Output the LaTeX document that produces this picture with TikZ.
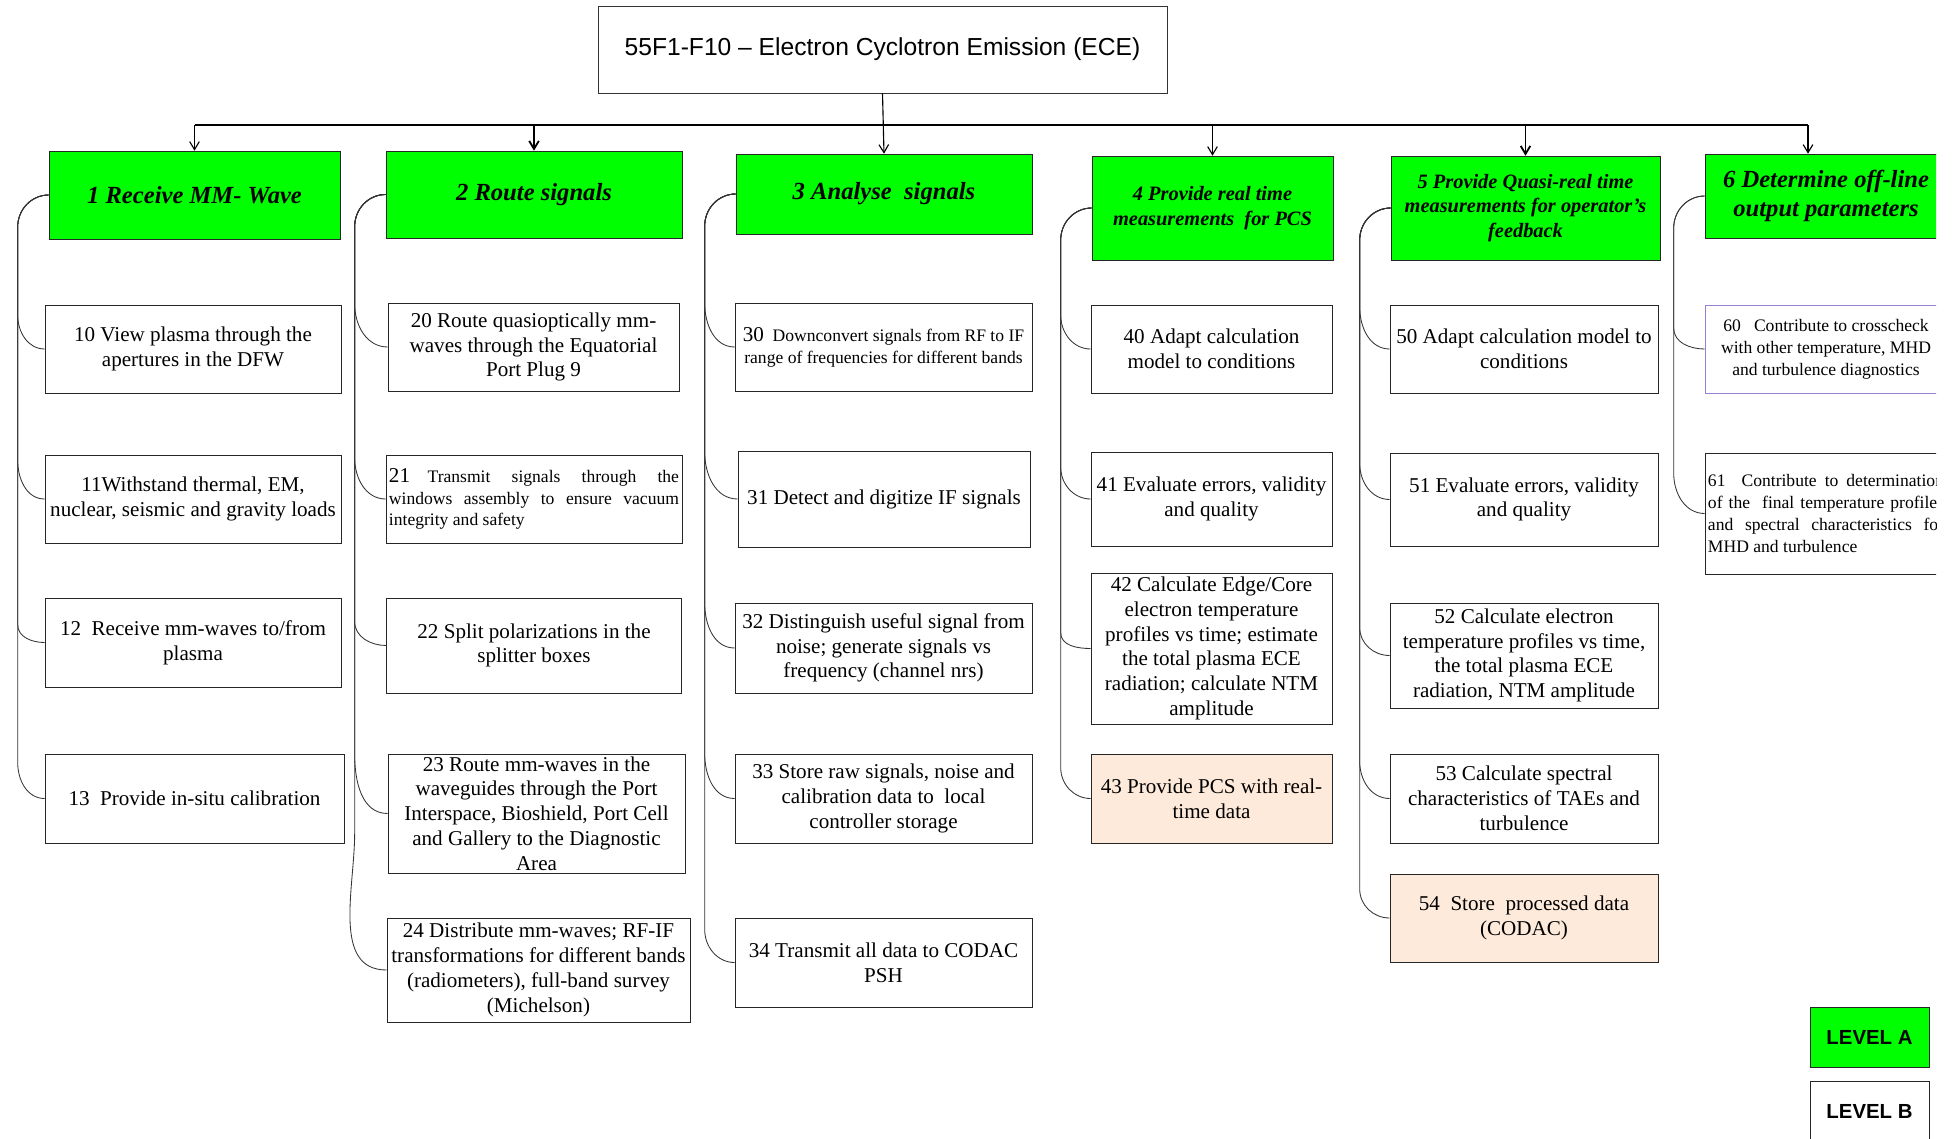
\documentclass[tikz,border=0pt]{standalone}
\usepackage{fontspec}
\setmainfont{Liberation Serif}
\setsansfont{Liberation Sans}
\usepackage{tikz}
\usetikzlibrary{arrows.meta, positioning, calc}

\definecolor{wbsgreen}{RGB}{0,255,0}
\definecolor{wbspeach}{RGB}{253,234,218}
\definecolor{wbspurple}{RGB}{155,127,212}

\newcommand{\taskfont}{\fontsize{15}{17.6}\selectfont}
\newcommand{\notefont}{\fontsize{12.5}{15.5}\selectfont}

\begin{document}
\begin{tikzpicture}[
    x=0.025cm, y=-0.025cm,
    headbox/.style={draw=black!80, fill=white, minimum width=14.225cm, minimum height=2.175cm,
        font=\sffamily\fontsize{17.5}{21}\selectfont},
    levA/.style={draw=black!85, fill=wbsgreen, align=center, inner xsep=0pt,
        font=\fontsize{17.5}{20.6}\selectfont\bfseries\itshape},
    levAsmall/.style={levA, font=\fontsize{14.5}{17.7}\selectfont\bfseries\itshape},
    task/.style={draw=black!85, fill=white, align=center, inner xsep=0pt, inner ysep=1pt, font=\taskfont},
    hot/.style={fill=wbspeach},
    col1/.style={task, minimum width=7.4cm},
    col2/.style={task, minimum width=7.375cm},
    col3/.style={task, minimum width=7.425cm},
    col4/.style={task, minimum width=6.025cm},
    col5/.style={task, minimum width=6.7cm},
    col6/.style={task, minimum width=6.05cm},
    legend/.style={draw=black!85, minimum width=2.975cm, minimum height=1.5cm,
        font=\sffamily\bfseries\fontsize{14.5}{17}\selectfont},
    link/.style={draw=black!80, line width=0.6pt},
    feed/.style={-{Straight Barb[length=2mm,width=2.4mm]}, draw=black, line width=0.8pt},
    busline/.style={draw=black, line width=1.4pt}
]
\useasboundingbox (0,0) rectangle (1952,1138);
\clip (0,0) rectangle (1936,1138);

% Top of the tree
\node[headbox] (top) at (882.5,49.5) {55F1-F10 – Electron Cyclotron Emission (ECE)};

% Level A functions
\node[levA, minimum width=7.275cm, minimum height=2.2cm] (a1) at (194.5,195) {1 Receive MM- Wave};
\node[levA, minimum width=7.4cm, minimum height=2.175cm] (a2) at (534,194.5) {2 Route signals};
\node[levA, minimum width=7.4cm, minimum height=2cm] (a3) at (884,194) {3 Analyse~~signals};
\node[levAsmall, minimum width=6.025cm, minimum height=2.6cm] (a4) at (1212.5,208) {4 Provide real time\\measurements~~for PCS};
\node[levAsmall, minimum width=6.725cm, minimum height=2.6cm] (a5) at (1525.5,208) {5 Provide Quasi-real time\\measurements for operator’s\\feedback};
\node[levA, minimum width=6.05cm, minimum height=2.1cm] (a6) at (1826,196) {6 Determine off-line\\output parameters};

% Level B: receive
\node[col1, minimum height=2.2cm] (b10) at (193,349) {10 View plasma through the\\apertures in the DFW};
\node[col1, minimum height=2.2cm] (b11) at (193,499) {11Withstand thermal, EM,\\nuclear, seismic and gravity loads};
\node[col1, minimum height=2.225cm] (b12) at (193,642.5) {12~~Receive mm-waves to/from\\plasma};
\node[col1, minimum width=7.475cm, minimum height=2.225cm] (b13) at (194.5,798.5) {13~~Provide in-situ calibration};

% Level B: route
\node[col2, minimum width=7.275cm, minimum height=2.2cm] (b20) at (533.5,347) {20 Route quasioptically mm-\\waves through the Equatorial\\Port Plug 9};
\node[col2, align=left, font=\notefont, minimum width=7.4cm, minimum height=2.2cm] (b21) at (534,499)
    {\makebox[7.25cm][s]{{\taskfont 21}\quad Transmit signals through the}\\
     \makebox[7.25cm][s]{windows assembly to ensure vacuum}\\
     integrity and safety};
\node[col2, minimum height=2.375cm] (b22) at (534,645.5) {22 Split polarizations in the\\splitter boxes};
\node[col2, minimum width=7.425cm, minimum height=2.975cm] (b23) at (536.5,813.5) {23 Route mm-waves in the\\waveguides through the Port\\Interspace, Bioshield, Port Cell\\and Gallery to the Diagnostic\\Area};
\node[col2, minimum width=7.575cm, minimum height=2.6cm] (b24) at (538.5,970) {24 Distribute mm-waves; RF-IF\\transformations for different bands\\(radiometers), full-band survey\\(Michelson)};

% Level B: analyse
\node[col3, font=\notefont, minimum height=2.2cm] (b30) at (883.5,347) {{\taskfont 30}~~Downconvert signals from RF to IF\\range of frequencies for different bands};
\node[col3, minimum width=7.3cm, minimum height=2.4cm] (b31) at (884,499) {31 Detect and digitize IF signals};
\node[col3, minimum height=2.25cm] (b32) at (883.5,648) {32 Distinguish useful signal from\\noise; generate signals vs\\frequency (channel nrs)};
\node[col3, minimum height=2.225cm] (b33) at (883.5,798.5) {33 Store raw signals, noise and\\calibration data to~~local\\controller storage};
\node[col3, minimum height=2.225cm] (b34) at (883.5,962.5) {34 Transmit all data to CODAC\\PSH};

% Level B: real time
\node[col4, minimum height=2.2cm] (b40) at (1211.5,349) {40 Adapt calculation\\model to conditions};
\node[col4, minimum height=2.35cm] (b41) at (1211.5,499) {41 Evaluate errors, validity\\and quality};
\node[col4, minimum height=3.775cm] (b42) at (1211.5,648.5) {42 Calculate Edge/Core\\electron temperature\\profiles vs time; estimate\\the total plasma ECE\\radiation; calculate NTM\\amplitude};
\node[col4, hot, minimum height=2.225cm] (b43) at (1211.5,798.5) {43 Provide PCS with real-\\time data};

% Level B: quasi-real time
\node[col5, minimum height=2.2cm] (b50) at (1524,349) {50 Adapt calculation model to\\conditions};
\node[col5, minimum height=2.325cm] (b51) at (1524,499.5) {51 Evaluate errors, validity\\and quality};
\node[col5, minimum height=2.625cm] (b52) at (1524,655.5) {52 Calculate electron\\temperature profiles vs time,\\the total plasma ECE\\radiation, NTM amplitude};
\node[col5, minimum height=2.225cm] (b53) at (1524,798.5) {53 Calculate spectral\\characteristics of TAEs and\\turbulence};
\node[col5, hot, minimum height=2.2cm] (b54) at (1524,918) {54~~Store~~processed data\\(CODAC)};

% Level B: off-line
\node[col6, draw=wbspurple, font=\notefont, minimum height=2.2cm] (b60) at (1826,349) {60~~~Contribute to crosscheck\\with other temperature, MHD\\and turbulence diagnostics};
\node[col6, align=left, font=\notefont, minimum height=3.025cm] (b61) at (1826,513.5)
    {\makebox[5.9cm][s]{61~~Contribute to determination}\\
     \makebox[5.9cm][s]{of the~~final temperature profiles}\\
     \makebox[5.9cm][s]{and spectral characteristics for}\\
     MHD and turbulence};

% Key
\node[legend, fill=wbsgreen] (keyA) at (1869.5,1037) {LEVEL A};
\node[legend, fill=white] (keyB) at (1869.5,1111) {LEVEL B};

% Title down to the Level A row
\coordinate (busL) at (194.5,125);
\coordinate (busR) at (1808,125);
\draw[busline] (busL) -- (busR);
\draw[feed] (top.south) -- (a3.north);
\foreach \n in {a1,a4}
    \draw[feed] (\n.north |- busL) -- (\n.north);
\foreach \n in {a2,a5}
    \draw[feed, line width=1.3pt] (\n.north |- busL) -- (\n.north);
\draw[feed] (busR) -- (busR |- a6.north);

% Level A to Level B, bending down the left side
\foreach \p/\kids in {a1/{b10/34,b11/39,b12/18,b13/36},
        a2/{b20/43,b21/41,b22/24,b23/59,b24/137},
        a3/{b30/44,b31/47,b32/45,b33/45,b34/33},
        a4/{b40/34,b41/32,b42/16,b43/31},
        a5/{b50/42,b51/36,b52/28,b53/37,b54/29},
        a6/{b60/21,b61/40}}{
    \foreach \k/\r in \kids
        \draw[link] (\p.west) to[out=180,in=90] ++(-31,32) coordinate (sp)
            -- ($(sp |- \k.west)+(0,-\r)$) to[out=-90,in=180] (\k.west);
}

\end{tikzpicture}
\end{document}
